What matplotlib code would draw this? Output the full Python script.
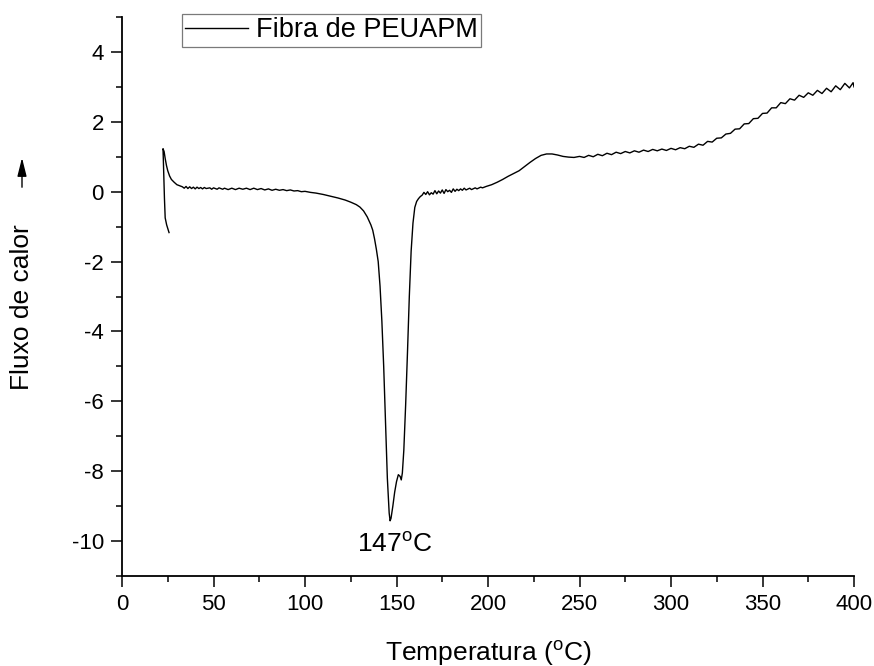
import matplotlib
matplotlib.use("Agg")
import matplotlib.pyplot as plt

plt.rcParams['font.family'] = ['Liberation Sans', 'DejaVu Sans']
plt.rcParams['mathtext.fontset'] = 'custom'
plt.rcParams['mathtext.rm'] = 'Liberation Sans'
plt.rcParams['axes.unicode_minus'] = False

# DSC curve of the UHMWPE fibre
temp = [25.7, 24.4, 23.6, 23.2, 22.9, 22.6, 22.4,
        23.0, 23.6, 24.3, 25.0, 26.0, 27.0, 28.5, 30.0, 31.5,
        33, 34, 35, 36, 37, 38, 39, 40, 41, 42, 43, 44, 45, 46, 48, 49, 50,
        52, 53, 55, 56, 58, 60, 62, 64, 66, 68, 70, 72, 74, 76, 78, 80, 82,
        84, 86, 88, 90, 92, 94, 96, 98, 100, 103, 106, 110, 114, 118, 122,
        125, 128, 130, 132, 134, 136, 137, 138, 139, 140, 141, 142, 143, 144,
        145, 146, 146.5, 147, 148, 149, 150, 151, 152, 152.6, 153.2, 154,
        155, 156, 157, 158, 159, 160, 161, 162, 163, 164, 165, 166, 167, 168,
        169, 170, 171, 172, 173, 174, 175, 176, 177, 178, 179, 180, 181, 182,
        183, 184, 185, 186, 187, 188, 190, 191, 193, 194, 196, 197, 199, 202,
        205, 208, 211, 214, 217, 220, 223, 226, 229, 232, 235, 238, 241, 244,
        247, 250, 252.5, 255, 257.5, 260, 262.5, 265, 267.5, 270, 272.5, 275,
        277.5, 280, 282.5, 285, 287.5, 290, 292.5, 295, 297.5, 300, 302.5,
        305, 307.5, 310, 312.5, 315, 317.5, 320, 322.5, 325, 327.5, 330,
        332.5, 335, 337.5, 340, 342.5, 345, 347.5, 350, 352.5, 355, 357.5,
        360, 362.5, 365, 367.5, 370, 372.5, 375, 377.5, 380, 382.5, 385,
        387.5, 390, 392.5, 395, 397.5, 399.5, 400]
heat_flow = [-1.17, -0.95, -0.75, -0.2, 0.4, 0.9, 1.23,
             1.15, 0.95, 0.75, 0.6, 0.45, 0.35, 0.27, 0.2, 0.17,
             0.14, 0.1, 0.15, 0.09, 0.14, 0.09, 0.13, 0.08, 0.13, 0.09, 0.12,
             0.08, 0.12, 0.09, 0.11, 0.07, 0.11,
             0.07, 0.11, 0.07, 0.1, 0.06, 0.1, 0.06, 0.1, 0.07, 0.1, 0.06, 0.1,
             0.06, 0.09, 0.05, 0.08, 0.04,
             0.07, 0.04, 0.06, 0.03, 0.05, 0.02, 0.03, 0.0, 0.01, -0.02, -0.04,
             -0.08, -0.13, -0.18, -0.24,
             -0.3, -0.37, -0.44, -0.55, -0.72, -0.95, -1.1, -1.35, -1.65, -2.0,
             -2.7, -3.7, -5.0, -6.6,
             -8.2, -9.2, -9.42, -9.35, -9.0, -8.6, -8.3, -8.1, -8.15, -8.25,
             -8.05, -7.4,
             -6.1, -4.6, -3.0, -1.7, -0.9, -0.45, -0.28, -0.2, -0.14, -0.1,
             -0.02, -0.08, 0.0, -0.09,
             -0.03, -0.07, 0.03, -0.06, 0.02, -0.04, 0.05, -0.05, 0.06, 0.0,
             0.04, -0.02, 0.08, 0.01,
             0.07, 0.03, 0.08, 0.04, 0.1, 0.05, 0.1, 0.06, 0.11, 0.08, 0.13,
             0.11, 0.15, 0.2,
             0.27, 0.35, 0.44, 0.52, 0.6, 0.72, 0.84, 0.95, 1.04, 1.08, 1.08,
             1.05, 1.01, 0.99,
             0.98, 1.01, 0.98, 1.04, 1.0, 1.07, 1.03, 1.1, 1.06, 1.13, 1.09,
             1.15,
             1.11, 1.17, 1.13, 1.19, 1.15, 1.21, 1.17, 1.22, 1.18, 1.24, 1.2,
             1.26, 1.23, 1.3, 1.27, 1.36, 1.33, 1.44, 1.42, 1.53, 1.54, 1.65,
             1.67, 1.79, 1.8, 1.94, 1.95, 2.09, 2.1, 2.24, 2.25, 2.4, 2.4,
             2.55, 2.52, 2.66, 2.62, 2.76, 2.7, 2.83, 2.76, 2.9, 2.81, 2.96,
             2.86, 3.03, 2.92, 3.1, 2.97, 3.12, 3.0]

x_ticks = [0, 50, 100, 150, 200, 250, 300, 350, 400]
y_ticks = [-10, -8, -6, -4, -2, 0, 2, 4]

fig = plt.figure(figsize=(8.74, 6.66), dpi=100)
ax = fig.add_axes([122/874, 90/666, 732/874, 559/666])

ax.plot(temp, heat_flow, color='black', lw=1.0, label='Fibra de PEUAPM')

ax.set_xlim(0, 400)
ax.set_ylim(-11, 5)
ax.set_xticks(x_ticks)
ax.set_yticks(y_ticks)
ax.set_xticks(range(25, 400, 50), minor=True)
ax.set_yticks([-11, -9, -7, -5, -3, -1, 1, 3, 5], minor=True)
ax.tick_params(which='major', direction='out', length=8, width=1.1,
               labelsize=16, pad=5)
ax.tick_params(which='minor', direction='out', length=4.5, width=1.1)

for s in ['top', 'right']:
    ax.spines[s].set_visible(False)
for s in ['left', 'bottom']:
    ax.spines[s].set_linewidth(1.3)

ax.set_xlabel('Temperatura ($\\mathrm{^oC}$)', fontsize=19)
ax.xaxis.set_label_coords(0.5, -0.112)

fig.text(22/874, 1 - 307/666, 'Fluxo de calor', rotation=90,
         ha='center', va='center', fontsize=19)
fig.add_artist(matplotlib.patches.FancyArrowPatch(
    (22/874, 1 - 190/666), (22/874, 1 - 155/666),
    transform=fig.transFigure, arrowstyle='-|>,head_length=0.8,head_width=0.2',
    mutation_scale=14, color='black', lw=1))

ax.text(149, -10.31, '147$\\mathrm{^oC}$', ha='center', va='baseline',
        fontsize=19)

leg = ax.legend(loc='upper left', bbox_to_anchor=(182/874, 1 - 14/666),
                bbox_transform=fig.transFigure, fontsize=19.5,
                frameon=True, fancybox=False, borderaxespad=0,
                borderpad=0.12, handlelength=2.3, handletextpad=0.3)
leg.get_frame().set_edgecolor('0.35')
leg.get_frame().set_linewidth(0.9)

fig.savefig('out.png', dpi=100)
